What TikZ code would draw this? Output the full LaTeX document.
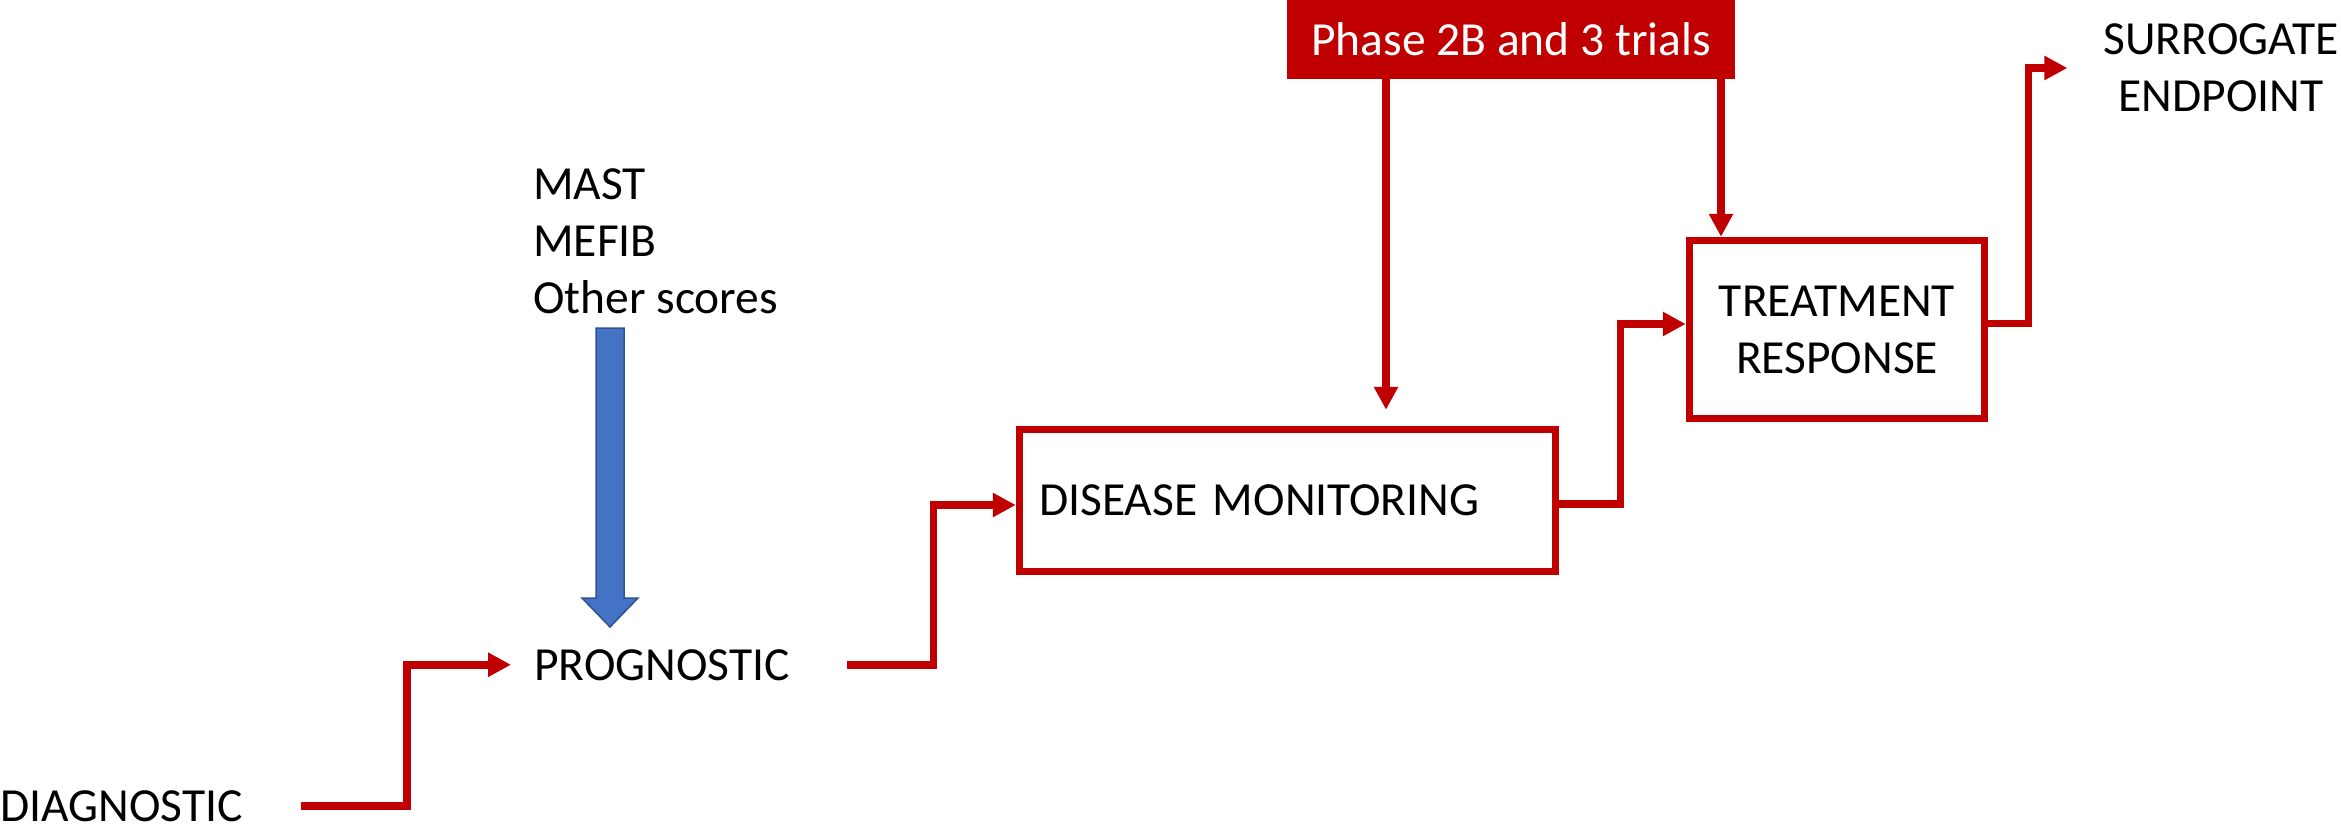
\documentclass[tikz,border=0pt]{standalone}
\usepackage{fontspec}
\setmainfont{Carlito}
\usetikzlibrary{arrows.meta}
\definecolor{pptred}{RGB}{192,0,0}
\definecolor{pptblue}{RGB}{68,114,196}
\definecolor{pptbluedark}{RGB}{47,82,143}
\begin{document}
\begin{tikzpicture}[x=1pt,y=-1pt,
  lbl/.style={inner sep=0pt, font={\fontsize{47.5}{57}\selectfont}},
  flow/.style={draw=pptred, line width=7.5pt, line join=miter, -{Triangle[length=23pt,width=23pt]}},
  boxed/.style={draw=pptred, line width=7.5pt, fill=white},
  blockarrow/.style={fill=pptblue, draw=pptbluedark, line width=1.5pt, line join=miter}]
\useasboundingbox (0,0) rectangle (2341,827);
% labels and boxes
\node[lbl, anchor=base west] (diag) at (0,821) {DIAGNOSTIC};
\node[lbl, anchor=base west] (prog) at (534,680) {PROGNOSTIC};
\node[lbl, anchor=west, align=left] (scores) at (533,241) {MAST\\MEFIB\\Other scores};
\node[lbl, boxed, minimum width=536pt, minimum height=142pt, text width=497pt, inner xsep=19.5pt, align=left] (dm) at (1287.5,500.5) {DISEASE MONITORING};
\node[lbl, boxed, minimum width=295pt, minimum height=178pt, align=center] (tr) at (1837,329.5) {TREATMENT\\RESPONSE};
\node[lbl, fill=pptred, text=white, minimum width=448pt, minimum height=79pt] (phase) at (1511,39.5) {Phase 2B and 3 trials};
\node[lbl, align=center] (sur) at (2221,68) {SURROGATE\\ENDPOINT};
\coordinate (xl) at (1386,0);
\coordinate (xr) at (1721,0);
% blue block arrow
\draw[blockarrow] (596,328) -- (624,328) -- (624,598) -- (638,598) -- (610,627) -- (582,598) -- (596,598) -- cycle;
% connectors
\draw[flow, shorten <=58pt, shorten >=23pt] (diag.east) -- ++(164,0) |- (prog.west);
\draw[flow, shorten <=57pt] (prog.east) -- ++(144,0) |- ([yshift=-4.5pt]dm.west);
\draw[flow] ([yshift=-3.5pt]dm.east) -- ++(61,0) |- ([yshift=5.5pt]tr.west);
\draw[flow, shorten >=36pt] ([yshift=6pt]tr.east) -- ++(40,0) |- (sur.west);
\draw[flow, shorten >=16pt] (phase.south -| xl) -- (dm.north -| xl);
\draw[flow] (phase.south -| xr) -- (tr.north -| xr);
\end{tikzpicture}
\end{document}
